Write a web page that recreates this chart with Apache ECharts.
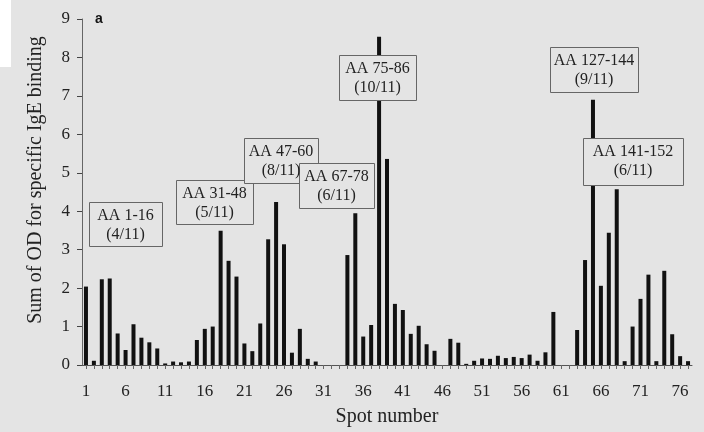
<!DOCTYPE html>
<html>
<head>
<meta charset="utf-8">
<script src="https://cdn.jsdelivr.net/npm/echarts@6/dist/echarts.min.js"></script>
<style>
html,body{margin:0;padding:0;background:#e4e4e4;}
#c{width:704px;height:432px;}
</style>
</head>
<body>
<div id="c"></div>
<script>
const spots = Array.from({length: 77}, (_, i) => String(i + 1));
const odValues = [
  2.04, 0.11, 2.23, 2.25, 0.82, 0.39, 1.06, 0.71, 0.59, 0.43,
  0.04, 0.09, 0.07, 0.09, 0.65, 0.94, 1.00, 3.49, 2.71, 2.30,
  0.56, 0.36, 1.08, 3.27, 4.24, 3.14, 0.32, 0.94, 0.16, 0.09,
  0, 0, 0, 2.86, 3.95, 0.74, 1.04, 8.54, 5.36, 1.59,
  1.43, 0.81, 1.02, 0.54, 0.37, 0, 0.68, 0.58, 0.03, 0.11,
  0.17, 0.16, 0.24, 0.18, 0.21, 0.18, 0.27, 0.11, 0.33, 1.38,
  0, 0, 0.91, 2.73, 6.90, 2.06, 3.44, 4.57, 0.10, 1.00,
  1.72, 2.35, 0.10, 2.45, 0.80, 0.23, 0.10
];
const yTicks = [0, 1, 2, 3, 4, 5, 6, 7, 8, 9];
const boxLine1 = ['AA 1-16', 'AA 31-48', 'AA 47-60', 'AA 67-78', 'AA 75-86', 'AA 127-144', 'AA 141-152'];
const boxLine2 = ['(4/11)', '(5/11)', '(8/11)', '(6/11)', '(10/11)', '(9/11)', '(6/11)'];
const boxRects = [
  [89, 202, 73, 44], [176, 180, 77, 44], [244, 138, 74, 45], [299, 163, 75, 45],
  [339, 55, 77, 45], [550, 47, 88, 45], [583, 138, 100, 47]
];

const serif = '"Liberation Serif", "DejaVu Serif", serif';
const chart = echarts.init(document.getElementById('c'), null, {renderer: 'canvas'});

const graphics = [
  {type: 'rect', shape: {x: 0, y: 0, width: 11, height: 67}, style: {fill: '#ffffff'}, z: 100},
  {type: 'text', x: 95, y: 12, style: {text: 'a', font: 'bold 14px "Liberation Sans", Arial, sans-serif', fill: '#111'}, z: 100}
];
boxRects.forEach((r, i) => {
  graphics.push({
    type: 'rect', shape: {x: r[0] + 0.5, y: r[1] + 0.5, width: r[2], height: r[3]},
    style: {fill: '#e4e4e4', stroke: '#666', lineWidth: 1}, z: 100
  });
  graphics.push({
    type: 'text', x: r[0] + r[2] / 2, y: r[1] + 14,
    style: {text: boxLine1[i], font: '16px ' + serif, fill: '#222', textAlign: 'center', textVerticalAlign: 'middle'}, z: 101
  });
  graphics.push({
    type: 'text', x: r[0] + r[2] / 2, y: r[1] + 33,
    style: {text: boxLine2[i], font: '16px ' + serif, fill: '#222', textAlign: 'center', textVerticalAlign: 'middle'}, z: 101
  });
});

chart.setOption({
  backgroundColor: '#e4e4e4',
  animation: false,
  grid: {left: 82, right: 12, top: 19, bottom: 67, containLabel: false},
  xAxis: {
    type: 'category',
    data: spots,
    boundaryGap: true,
    name: 'Spot number',
    nameLocation: 'middle',
    nameGap: 42,
    nameTextStyle: {fontFamily: serif, fontSize: 20, color: '#222'},
    axisLine: {lineStyle: {color: '#555', width: 1}},
    axisTick: {show: true, interval: 0, alignWithLabel: true, length: 4, lineStyle: {color: '#666'}},
    axisLabel: {interval: 4, margin: 18, fontFamily: serif, fontSize: 17, color: '#222'}
  },
  yAxis: {
    type: 'value',
    min: 0, max: 9, interval: 1,
    name: 'Sum of OD for specific IgE binding',
    nameLocation: 'middle',
    nameGap: 36,
    nameTextStyle: {fontFamily: serif, fontSize: 20, color: '#222', padding: [0, 0, 0, 24]},
    axisLine: {show: true, lineStyle: {color: '#666', width: 1}},
    axisTick: {show: true, length: 5, lineStyle: {color: '#444'}},
    splitLine: {show: false},
    axisLabel: {margin: 12, fontFamily: serif, fontSize: 17, color: '#222',
      formatter: v => yTicks.includes(v) ? String(v) : ''}
  },
  series: [{
    type: 'bar',
    data: odValues,
    barWidth: 4,
    itemStyle: {color: '#111'}
  }],
  graphic: graphics
});
</script>
</body>
</html>
